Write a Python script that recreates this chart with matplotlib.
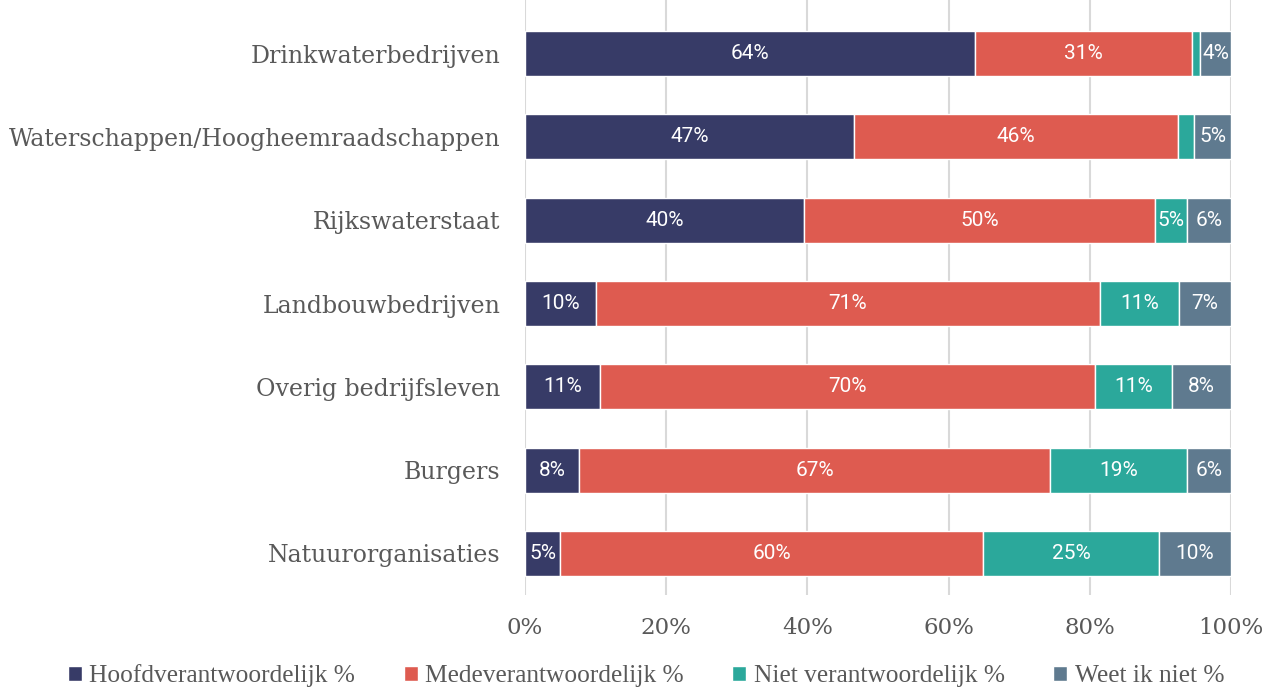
import matplotlib.pyplot as plt
import numpy as np

# data (percentages per organisation)
categories = ['Drinkwaterbedrijven', 'Waterschappen/Hoogheemraadschappen', 'Rijkswaterstaat',
              'Landbouwbedrijven', 'Overig bedrijfsleven', 'Burgers', 'Natuurorganisaties']
hoofd = [63.7, 46.6, 39.5, 10.1, 10.6, 7.6, 5.0]
mede = [30.8, 45.9, 49.7, 71.3, 70.1, 66.8, 59.9]
niet = [1.1, 2.3, 4.6, 11.2, 10.9, 19.4, 24.9]
weet = [4.4, 5.2, 6.2, 7.4, 8.4, 6.2, 10.2]
series_names = ['Hoofdverantwoordelijk %', 'Medeverantwoordelijk %', 'Niet verantwoordelijk %', 'Weet ik niet %']
colors = ['#373B67', '#DE5B50', '#2BA89B', '#5F7A8F']
ticks = [0, 20, 40, 60, 80, 100]

fig = plt.figure(figsize=(12.68, 6.88), dpi=100)
ax = fig.add_axes([525 / 1268, 1 - 595 / 688, 706 / 1268, 595 / 688])

y = np.arange(len(categories))
left = np.zeros(len(categories))
for name, vals, col in zip(series_names, [hoofd, mede, niet, weet], colors):
    vals = np.array(vals)
    bars = ax.barh(y, vals, left=left, height=0.54, color=col, edgecolor='white',
                   linewidth=1, label=name, zorder=3)
    for b, v in zip(bars, vals):
        if v >= 3.5:
            ax.text(b.get_x() + b.get_width() / 2, b.get_y() + b.get_height() / 2,
                    f'{round(v)}%', ha='center', va='center', color='white',
                    fontsize=15, family='Roboto', zorder=4)
    left += vals

ax.set_xlim(0, 100)
ax.set_ylim(len(categories) - 0.5, -0.5 - 12 / 83)
ax.set_yticks(y)
ax.set_yticklabels(categories, family='DejaVu Serif', fontsize=17, color='#595959')
ax.set_xticks(ticks)
ax.set_xticklabels([f'{t}%' for t in ticks], family='DejaVu Serif', fontsize=16.5, color='#595959')
ax.tick_params(axis='x', length=0, pad=16)
ax.tick_params(axis='y', length=0, pad=17.5)
for s in ax.spines.values():
    s.set_visible(False)
ax.grid(axis='x', color='#D9D9D9', linewidth=1.5, zorder=0)
ax.set_axisbelow(True)

ax.legend(loc='center', bbox_to_anchor=(0.5 + 12 / 1268, 1 - 676 / 688), bbox_transform=fig.transFigure,
          ncol=4, frameon=False, handlelength=0.55, handleheight=0.55, handletextpad=0.3,
          columnspacing=1.9, prop={'family': 'Liberation Serif', 'size': 18.3},
          labelcolor='#595959')

fig.savefig('out.png', dpi=100)
